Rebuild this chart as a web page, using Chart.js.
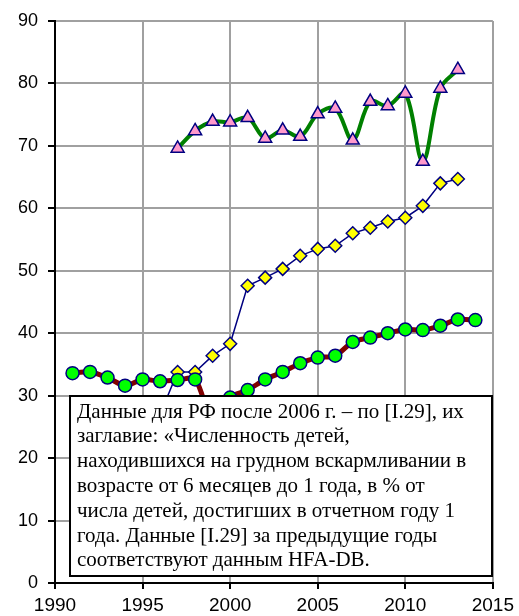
<!DOCTYPE html>
<html>
<head>
<meta charset="utf-8">
<script src="https://cdn.jsdelivr.net/npm/chart.js@4/dist/chart.umd.min.js"></script>
<style>
html,body{margin:0;padding:0;background:#fff;}
#wrap{width:519px;height:616px;position:relative;}
</style>
</head>
<body>
<div id="wrap"><canvas id="c"></canvas></div>
<script>
// Data
const yearsGreen = [1997,1998,1999,2000,2001,2002,2003,2004,2005,2006,2007,2008,2009,2010,2011,2012,2013];
const valuesGreen = [69.6,72.4,73.9,73.8,74.5,71.2,72.5,71.5,75.1,76.0,70.9,77.1,76.4,78.4,67.5,79.2,82.2];

const yearsBlue = [1996,1997,1998,1999,2000,2001,2002,2003,2004,2005,2006,2007,2008,2009,2010,2011,2012,2013];
const valuesBlue = [27.0,33.8,33.8,36.4,38.3,47.6,48.9,50.3,52.4,53.5,54.0,56.0,56.9,57.9,58.5,60.4,64.0,64.7];

const yearsRed = [1991,1992,1993,1994,1995,1996,1997,1998,1999,2000,2001,2002,2003,2004,2005,2006,2007,2008,2009,2010,2011,2012,2013,2014];
const valuesRed = [33.6,33.8,32.9,31.6,32.6,32.3,32.5,32.6,26.0,29.7,30.9,32.6,33.8,35.2,36.1,36.4,38.6,39.3,40.0,40.6,40.5,41.2,42.2,42.1];

const xTicks = [1990,1995,2000,2005,2010,2015];
const yTicks = [0,10,20,30,40,50,60,70,80,90];

const noteLines = [
  "Данные для РФ после 2006 г. – по [I.29], их",
  "заглавие: «Численность детей,",
  "находившихся на грудном вскармливании в",
  "возрасте от 6 месяцев до 1 года, в % от",
  "числа детей, достигших в отчетном году 1",
  "года. Данные [I.29] за предыдущие годы",
  "соответствуют данным HFA-DB."
];

const toPts = (xs, ys) => xs.map((x, i) => ({x: x, y: ys[i]}));

const notePlugin = {
  id: 'note',
  afterDatasetsDraw(chart) {
    const ctx = chart.ctx;
    const xs = chart.scales.x, ys = chart.scales.y;
    const l = Math.round(xs.getPixelForValue(1990.86));
    const r = Math.round(xs.getPixelForValue(2014.94));
    const t = Math.round(ys.getPixelForValue(30));
    const b = Math.round(ys.getPixelForValue(1.12));
    ctx.save();
    ctx.fillStyle = '#fff';
    ctx.fillRect(l, t, r - l, b - t);
    ctx.strokeStyle = '#000';
    ctx.lineWidth = 2;
    ctx.strokeRect(l, t, r - l, b - t);
    ctx.fillStyle = '#000';
    ctx.font = '21px "Liberation Serif", "Times New Roman", serif';
    ctx.textBaseline = 'middle';
    ctx.textAlign = 'left';
    noteLines.forEach((s, i) => {
      ctx.fillText(s, l + 7, t + 16 + i * 24.8);
    });
    ctx.restore();
  }
};

new Chart(document.getElementById('c'), {
  type: 'line',
  data: {
    datasets: [
      {
        data: toPts(yearsRed, valuesRed),
        borderColor: '#800000',
        borderWidth: 5,
        tension: 0.3,
        pointStyle: 'circle',
        pointRadius: 6.5,
        pointBackgroundColor: '#00ff00',
        pointBorderColor: '#000080',
        pointBorderWidth: 1.5,
        order: 0
      },
      {
        data: toPts(yearsBlue, valuesBlue),
        borderColor: '#000080',
        borderWidth: 1.5,
        tension: 0,
        pointStyle: 'rectRot',
        pointRadius: 6.5,
        pointBackgroundColor: '#ffff00',
        pointBorderColor: '#000080',
        pointBorderWidth: 1.5,
        order: 1
      },
      {
        data: toPts(yearsGreen, valuesGreen),
        borderColor: '#008000',
        borderWidth: 4,
        tension: 0.35,
        pointStyle: 'triangle',
        pointRadius: 7.5,
        pointBackgroundColor: '#ff99cc',
        pointBorderColor: '#000080',
        pointBorderWidth: 1.5,
        order: 2
      }
    ]
  },
  options: {
    responsive: true,
    maintainAspectRatio: false,
    animation: false,
    layout: {padding: {top: 21, right: 26, left: 0, bottom: 0}},
    plugins: {legend: {display: false}, tooltip: {enabled: false}},
    scales: {
      x: {
        type: 'linear',
        min: 1990, max: 2015,
        afterBuildTicks(s) { s.ticks = xTicks.map(v => ({value: v})); },
        afterFit(s) { s.height = 33; },
        grid: {color: '#a0a0a0', lineWidth: 2, tickColor: '#000', tickLength: 6},
        border: {color: '#000', width: 2},
        ticks: {color: '#000', padding: 5, maxRotation: 0, autoSkip: false,
                font: {family: '"Liberation Sans", Arial, sans-serif', size: 19},
                callback: v => String(v)}
      },
      y: {
        min: 0, max: 90,
        afterBuildTicks(s) { s.ticks = yTicks.map(v => ({value: v})); },
        afterFit(s) { s.width = 55; },
        grid: {color: '#a0a0a0', lineWidth: 2, tickColor: '#000', tickLength: 7},
        border: {color: '#000', width: 2},
        ticks: {color: '#000', padding: 10,
                font: {family: '"Liberation Sans", Arial, sans-serif', size: 18},
                callback: v => String(v)}
      }
    }
  },
  plugins: [notePlugin]
});
</script>
</body>
</html>
